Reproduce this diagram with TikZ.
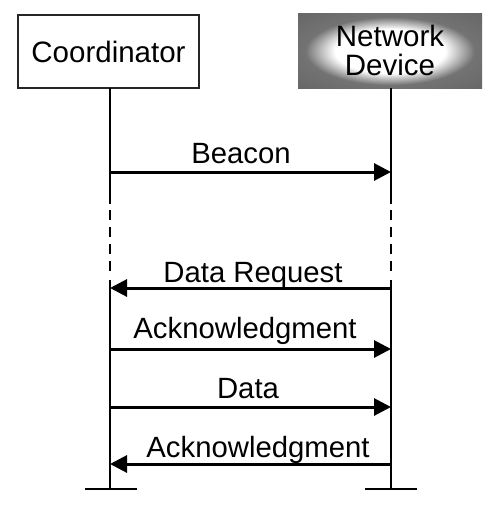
\documentclass[tikz,border=0pt]{standalone}
\usepackage{fontspec}
\setmainfont{Liberation Sans}
\usetikzlibrary{arrows.meta}
\pgfdeclareradialshading{netshade}{\pgfpoint{0bp}{0bp}}{color(0bp)=(white); color(15bp)=(white); color(23bp)=(black!55); color(50bp)=(black!65)}
\tikzset{
  boxtext/.style={font=\fontsize{29.5}{29}\selectfont, anchor=base, inner sep=0pt},
  msgtext/.style={font=\fontsize{29.3}{29}\selectfont, anchor=base, inner sep=0pt},
  lifeline/.style={line width=1.5pt},
  dashseg/.style={line width=1.8pt},
  msg/.style={line width=3pt, -{Triangle[length=17pt,width=17pt]}},
  bar/.style={line width=1.5pt}
}
\begin{document}
\begin{tikzpicture}[x=1pt,y=-1pt]
\useasboundingbox (0,0) rectangle (500,519);
% boxes
\node[draw=black!85, line width=1.2pt, minimum width=181pt, minimum height=73pt, inner sep=0pt] (coord) at (108.5,51.5) {};
\node[boxtext] (coordtxt) at (108.5,63) {Coordinator};
\node[shading=netshade, minimum width=184pt, minimum height=74pt, inner sep=0pt] (net) at (390,51) {};
\node[boxtext] (nettxt1) at (390,47) {Network};
\node[boxtext] (nettxt2) at (390,75) {Device};
% lifeline coordinates
\coordinate (lt) at (110,88);
\coordinate (l1) at (110,204);
\coordinate (l2) at (110,280);
\coordinate (lb) at (110,489);
\coordinate (rt) at (391,88);
\coordinate (r1) at (391,204);
\coordinate (r2) at (391,280);
\coordinate (rb) at (391,489);
\draw[lifeline] (lt) -- (l1);
\draw[lifeline] (l2) -- (lb);
\draw[lifeline] (rt) -- (r1);
\draw[lifeline] (r2) -- (rb);
\foreach \y in {210,227,244,261} {
  \draw[dashseg] (110,\y) -- (110,\y+10);
  \draw[dashseg] (391,\y) -- (391,\y+10);
}
\coordinate (lbl) at (85,489);
\coordinate (lbr) at (137,489);
\coordinate (rbl) at (365,489);
\coordinate (rbr) at (417,489);
\draw[bar] (lbl) -- (lbr);
\draw[bar] (rbl) -- (rbr);
% messages
\coordinate (m1l) at (110,172); \coordinate (m1r) at (391,172);
\coordinate (m2l) at (110,288); \coordinate (m2r) at (391,288);
\coordinate (m3l) at (110,349); \coordinate (m3r) at (391,349);
\coordinate (m4l) at (110,407); \coordinate (m4r) at (391,407);
\coordinate (m5l) at (110,464); \coordinate (m5r) at (391,464);
\draw[msg] (m1l) -- (m1r);
\draw[msg] (m2r) -- (m2l);
\draw[msg] (m3l) -- (m3r);
\draw[msg] (m4l) -- (m4r);
\draw[msg] (m5r) -- (m5l);
\node[msgtext] (t1) at (241,163) {Beacon};
\node[msgtext] (t2) at (253,282) {Data Request};
\node[msgtext] (t3) at (245,338) {Acknowledgment};
\node[msgtext] (t4) at (248,398) {Data};
\node[msgtext] (t5) at (258,457) {Acknowledgment};
\end{tikzpicture}
\end{document}
